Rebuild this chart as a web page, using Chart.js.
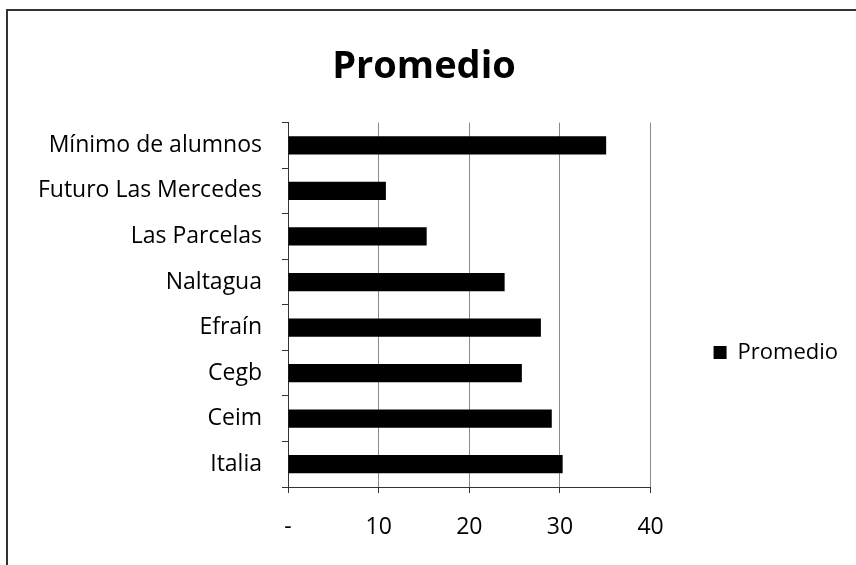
<!DOCTYPE html>
<html>
<head>
<meta charset="utf-8">
<script src="https://cdn.jsdelivr.net/npm/chart.js@4/dist/chart.umd.min.js"></script>
<style>
  html, body { margin: 0; padding: 0; background: #fff; overflow: hidden; }
  #wrap { position: relative; width: 856px; height: 565px; }
  #frame { position: absolute; left: 6px; top: 9px; width: 900px; height: 600px;
           border-left: 2px solid #333; border-top: 2px solid #333; pointer-events: none; }
  canvas { position: absolute; left: 0; top: 0; }
</style>
</head>
<body>
<div id="wrap">
  <canvas id="c" width="856" height="565"></canvas>
  <div id="frame"></div>
</div>
<script>
const categories = ["Mínimo de alumnos", "Futuro Las Mercedes", "Las Parcelas", "Naltagua", "Efraín", "Cegb", "Ceim", "Italia"];
const promedio = [35.1, 10.8, 15.3, 23.9, 27.9, 25.8, 29.1, 30.3];
const seriesName = "Promedio";
const titleText = "Promedio";
const xTicks = [0, 10, 20, 30, 40];
const xTickLabels = ["-", "10", "20", "30", "40"];

const FONT = "'Open Sans', 'DejaVu Sans', sans-serif";

new Chart(document.getElementById('c'), {
  type: 'bar',
  data: {
    labels: categories,
    datasets: [{
      label: seriesName,
      data: promedio,
      backgroundColor: '#000',
      borderWidth: 0,
      barPercentage: 0.4,
      categoryPercentage: 1.0
    }]
  },
  options: {
    indexAxis: 'y',
    responsive: false,
    animation: false,
    devicePixelRatio: 1,
    layout: { padding: { left: 0, right: 8, top: 0, bottom: 0 } },
    plugins: {
      title: {
        display: true,
        text: titleText,
        color: '#000',
        font: { family: FONT, size: 38, weight: 'bold' },
        padding: { top: 44, bottom: 33 }
      },
      legend: {
        display: true,
        position: 'right',
        title: {
          display: true,
          text: ' ',
          font: { family: FONT, size: 10 },
          padding: 64
        },
        labels: {
          color: '#000',
          font: { family: FONT, size: 22 },
          boxWidth: 13,
          boxHeight: 13,
          padding: 63
        }
      },
      tooltip: { enabled: false }
    },
    scales: {
      x: {
        min: 0,
        max: 40,
        afterBuildTicks: (s) => { s.ticks = xTicks.map(v => ({ value: v })); },
        afterFit: (s) => { s.height = 78; },
        ticks: {
          color: '#000',
          font: { family: FONT, size: 23 },
          padding: 21,
          maxRotation: 0,
          callback: (v) => xTickLabels[xTicks.indexOf(v)]
        },
        grid: {
          color: '#8a8a8a',
          lineWidth: 1,
          tickColor: '#333',
          tickLength: 6,
          drawTicks: true
        },
        border: { color: '#333', width: 1 }
      },
      y: {
        afterFit: (s) => { s.width = 288; },
        ticks: {
          color: '#000',
          font: { family: FONT, size: 23 },
          padding: 20
        },
        grid: {
          offset: true,
          drawOnChartArea: false,
          tickColor: '#333',
          tickLength: 6
        },
        border: { color: '#333', width: 1 }
      }
    }
  }
});
</script>
</body>
</html>
